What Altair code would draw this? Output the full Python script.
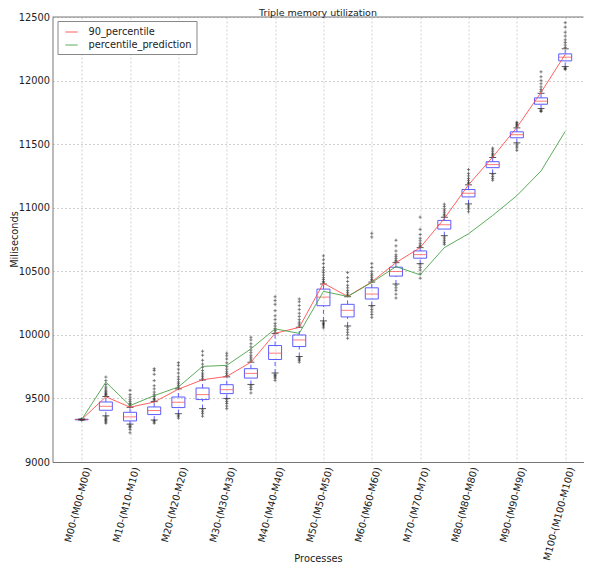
import json
import altair as alt
import pandas as pd

categories = ["M00-(M00-M00)", "M05-(M05-M05)", "M10-(M10-M10)", "M15-(M15-M15)",
              "M20-(M20-M20)", "M25-(M25-M25)", "M30-(M30-M30)", "M35-(M35-M35)",
              "M40-(M40-M40)", "M45-(M45-M45)", "M50-(M50-M50)", "M55-(M55-M55)",
              "M60-(M60-M60)", "M65-(M65-M65)", "M70-(M70-M70)", "M75-(M75-M75)",
              "M80-(M80-M80)", "M85-(M85-M85)", "M90-(M90-M90)", "M95-(M95-M95)",
              "M100-(M100-M100)"]

q1 = [9332, 9407, 9323, 9373, 9428, 9491, 9538, 9660, 9806, 9908, 10229, 10141,
      10282, 10462, 10603, 10832, 11085, 11315, 11550, 11814, 12155]
median = [9334, 9438, 9355, 9405, 9470, 9530, 9569, 9697, 9856, 9960, 10297, 10193,
          10321, 10498, 10631, 10866, 11114, 11339, 11574, 11838, 12184]
q3 = [9336, 9472, 9391, 9433, 9511, 9582, 9608, 9734, 9916, 9999, 10360, 10240,
      10370, 10532, 10660, 10900, 11143, 11362, 11597, 11864, 12210]
whisker_lo = [9330, 9363, 9298, 9330, 9380, 9420, 9500, 9610, 9700, 9830, 10110, 10070,
              10230, 10400, 10560, 10780, 11030, 11270, 11510, 11780, 12110]
whisker_hi = [9338, 9515, 9430, 9475, 9575, 9645, 9670, 9785, 10010, 10060, 10400, 10300,
              10415, 10568, 10686, 10925, 11180, 11395, 11628, 11900, 12250]
p90 = [9334, 9513, 9431, 9472, 9573, 9647, 9673, 9785, 10012, 10059, 10407, 10302,
       10417, 10568, 10686, 10915, 11180, 11398, 11631, 11907, 12205]
prediction = [9334, 9628, 9444, 9522, 9590, 9752, 9760, 9890, 10047, 10012, 10342, 10302,
              10412, 10537, 10472, 10686, 10795, 10939, 11095, 11289, 11600]

outliers = [
    [9329, 9339],
    [9525, 9530, 9540, 9550, 9560, 9575, 9590, 9610, 9640, 9668, 9355, 9345, 9335, 9325, 9315, 9305],
    [9440, 9450, 9460, 9475, 9490, 9510, 9530, 9564, 9290, 9280, 9270, 9255, 9230],
    [9480, 9490, 9500, 9515, 9530, 9550, 9575, 9600, 9640, 9690, 9720, 9734, 9325, 9315, 9305],
    [9585, 9600, 9615, 9630, 9650, 9670, 9700, 9730, 9760, 9781, 9370, 9360, 9345],
    [9655, 9670, 9685, 9700, 9720, 9745, 9770, 9800, 9840, 9871, 9410, 9395, 9380, 9360],
    [9680, 9695, 9710, 9730, 9750, 9780, 9810, 9835, 9856, 9490, 9475, 9460, 9440, 9420],
    [9795, 9810, 9825, 9840, 9860, 9880, 9905, 9930, 9960, 9981, 9600, 9585, 9570, 9543],
    [10020, 10035, 10050, 10070, 10090, 10120, 10150, 10190, 10240, 10270, 10300,
     9690, 9680, 9670, 9660, 9642],
    [10070, 10085, 10100, 10120, 10145, 10170, 10200, 10230, 10260, 10282, 9820, 9810, 9800, 9785],
    [10410, 10420, 10435, 10450, 10470, 10490, 10510, 10530, 10560, 10590, 10621,
     10100, 10090, 10080, 10070, 10055],
    [10310, 10320, 10335, 10350, 10370, 10390, 10420, 10450, 10490, 10060, 10040, 10020, 10000, 9973],
    [10425, 10435, 10450, 10465, 10480, 10500, 10530, 10560, 10770, 10799,
     10220, 10200, 10180, 10160, 10138],
    [10575, 10585, 10600, 10615, 10630, 10660, 10700, 10744, 10390, 10370, 10350, 10320, 10290],
    [10695, 10705, 10720, 10740, 10760, 10790, 10830, 10926, 10550, 10530, 10510, 10480, 10446],
    [10935, 10945, 10960, 10975, 10990, 11010, 11028, 10770, 10755, 10740, 10725, 10712],
    [11190, 11200, 11215, 11230, 11250, 11270, 11300, 11020, 11005, 10990, 10968],
    [11405, 11415, 11425, 11440, 11455, 11469, 11260, 11245, 11230, 11216],
    [11638, 11645, 11655, 11665, 11672, 11500, 11485, 11470, 11451],
    [11915, 11930, 11950, 11975, 12000, 12030, 12069, 11770, 11760, 11758],
    [12260, 12280, 12300, 12320, 12350, 12380, 12420, 12455, 12100, 12095, 12087],
]

series_names = ["90_percentile", "percentile_prediction"]
y_ticks = [9000, 9500, 10000, 10500, 11000, 11500, 12000, 12500]

pos = list(range(1, len(categories) + 1))
box_df = pd.DataFrame({"pos": pos, "q1": q1, "median": median, "q3": q3,
                       "lo": whisker_lo, "hi": whisker_hi})
out_df = pd.DataFrame([{"pos": i + 1, "v": v} for i, vals in enumerate(outliers) for v in vals])
line_df = pd.DataFrame(
    [{"pos": i + 1, "v": p90[i], "series": series_names[0]} for i in range(len(pos))]
    + [{"pos": i + 1, "v": prediction[i], "series": series_names[1]} for i in range(len(pos))]
)

label_expr = json.dumps(categories) + "[datum.value - 1]"

BLUE = "#5c5cff"
RED = "#ff4545"
GREEN = "#3d9e3d"
FS = 9.8

x_enc = alt.X("pos:Q",
              scale=alt.Scale(domain=[0, 21.55], nice=False, zero=False),
              axis=alt.Axis(values=pos, labelExpr=label_expr, labelAngle=-75,
                            labelOverlap=False, labelOffset=6,
                            title="Processes", grid=True, ticks=False,
                            labelPadding=5, labelFontSize=FS,
                            titleY=91, titleBaseline="top", titleFontSize=FS,
                            titleFontWeight="normal"))
y_scale = alt.Scale(domain=[9000, 12500], nice=False, zero=False)
y_axis = alt.Axis(values=y_ticks, format="d", title="Miliseconds", grid=True,
                  ticks=False, labelPadding=3, labelFontSize=FS, titleFontSize=FS,
                  titleFontWeight="normal", titleX=-38, titleY=222,
                  titleAlign="center", titleBaseline="middle")

base = alt.Chart(box_df)

whisk_lo = base.mark_rule(color=BLUE, strokeDash=[4, 3], strokeWidth=1).encode(
    x=x_enc, y=alt.Y("lo:Q", scale=y_scale, axis=y_axis), y2="q1:Q")
whisk_hi = base.mark_rule(color=BLUE, strokeDash=[4, 3], strokeWidth=1).encode(
    x="pos:Q", y="q3:Q", y2="hi:Q")
cap_lo = base.mark_tick(orient="horizontal", color="#111", size=7, thickness=1).encode(
    x="pos:Q", y="lo:Q")
cap_hi = base.mark_tick(orient="horizontal", color="#111", size=7, thickness=1).encode(
    x="pos:Q", y="hi:Q")
box = base.mark_bar(size=13, fill="white", fillOpacity=0, stroke=BLUE, strokeWidth=1).encode(
    x="pos:Q", y="q1:Q", y2="q3:Q")
med = base.mark_tick(orient="horizontal", color=RED, size=13, thickness=1).encode(
    x="pos:Q", y="median:Q")

pts = alt.Chart(out_df).mark_point(
    shape="M-1,0L1,0M0,-1L0,1", size=10, filled=False, color="#111",
    strokeWidth=0.8, opacity=0.65).encode(x="pos:Q", y="v:Q")

top_spine = alt.Chart(pd.DataFrame({"v": [y_ticks[-1]]})).mark_rule(
    color="#777", strokeWidth=1).encode(y="v:Q")

lines = alt.Chart(line_df).mark_line(strokeWidth=1, opacity=0.85).encode(
    x="pos:Q", y="v:Q",
    color=alt.Color("series:N",
                    scale=alt.Scale(domain=series_names, range=[RED, GREEN]),
                    legend=alt.Legend(title=None, orient="none", legendX=5, legendY=4,
                                      symbolType="stroke", symbolSize=150,
                                      symbolStrokeWidth=1, symbolOffset=3,
                                      labelFontSize=FS, labelColor="#222",
                                      strokeColor="#888", fillColor="white",
                                      padding=4, rowPadding=1, labelOffset=10,
                                      cornerRadius=0)))

chart = alt.layer(whisk_lo, whisk_hi, box, med, cap_lo, cap_hi, pts, top_spine, lines).properties(
    width=531, height=445,
    title=alt.TitleParams("Triple memory utilization", fontSize=9.5, fontWeight="normal",
                          offset=0, dy=5, frame="group"),
    autosize=alt.AutoSizeParams(type="none"),
    padding={"left": 44.5, "top": 9, "right": 0, "bottom": 102},
).configure(font="DejaVu Sans").configure_view(stroke=None).configure_axis(
    domainColor="#777", gridColor="#d0d0d0", gridDash=[2, 2], labelColor="#222",
    titleColor="#222", labelFont="DejaVu Sans", titleFont="DejaVu Sans"
).configure_legend(labelFont="DejaVu Sans").configure_title(font="DejaVu Sans", color="#222")

chart.save("out.html", embed_options={"renderer": "svg", "actions": False})
